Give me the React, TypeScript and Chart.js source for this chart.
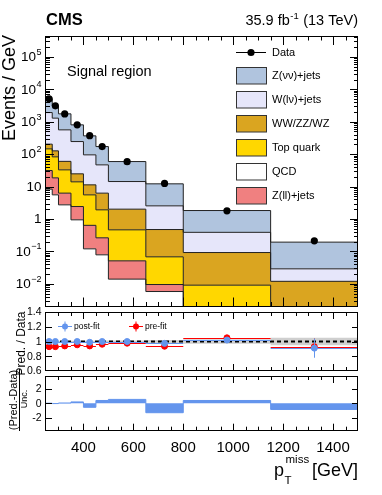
import React, { useEffect, useRef } from "react";
import { Chart, registerables } from "chart.js";

Chart.register(...registerables);

const W = 382;
const H = 495;
const FONT = "'Liberation Sans', Arial, Helvetica, sans-serif";

// ---------------- data ----------------
const binEdges = [250, 275, 300, 350, 400, 450, 500, 650, 800, 1150, 1500];
const dataEvents = [5070, 3080, 1740, 800, 370, 171, 58.5, 12.5, 1.79, 0.212];

const zvvJets = [3153, 1795, 1186, 556, 271, 124.7, 44.8, 9.59, 1.434, 0.1642];
const wlvJets = [1713, 1162, 501, 219.8, 83.8, 40.4, 12.27, 2.07, 0.2954, 0.01708];
const diboson = [57.6, 43.8, 27.1, 10.7, 5.75, 4.355, 1.549, 0.4047, 0.0832, 0.01045];
const topQuark = [114.4, 63.9, 26.5, 11.56, 4.91, 1.653, 0.4115, 0.0585, 0.0083, 0.001];
const qcd = [8.33, 5.55, 2.73, 0.941, 0.12, 0.0784, 0.01397, 0.00579, 0.0003, 0.0002];
const zllJets = [22.9, 13.0, 3.54, 1.48, 0.517, 0.184, 0.0372, 0.00373, 0.0005, 0.0003];

const postFitRatio = [1.0, 1.0, 1.0, 1.0, 0.99, 1.0, 1.0, 0.975, 1.02, 0.91];
const postFitErr = [0.01, 0.01, 0.01, 0.01, 0.012, 0.015, 0.02, 0.03, 0.035, 0.13];
const preFitRatio = [0.93, 0.93, 0.94, 0.955, 0.94, 0.963, 0.977, 0.936, 1.05, 0.93];
const preFitErr = [0.01, 0.01, 0.01, 0.012, 0.012, 0.015, 0.02, 0.03, 0.035, 0.11];
const uncBand = [0.008, 0.008, 0.008, 0.01, 0.01, 0.012, 0.015, 0.02, 0.03, 0.05];

const pulls = [0.02, -0.03, 0.05, 0.2, -0.55, 0.4, 0.55, -1.3, 0.4, -0.85];

const mainYLabels = [-2, -1, 0, 1, 2, 3, 4, 5];
const ratioYTicks = [0.6, 0.8, 1.0, 1.2, 1.4];
const ratioYLabels = ["0.6", "0.8", "1", "1.2", "1.4"];
const pullYTicks = [-2, 0, 2];
const pullYLabels = ["-2", "0", "2"];
const xLabelTicks = [400, 600, 800, 1000, 1200, 1400];

const legendEntries = [
  { label: "Z(νν)+jets", color: "#b0c4de" },
  { label: "W(lν)+jets", color: "#e6e6fa" },
  { label: "WW/ZZ/WZ", color: "#daa520" },
  { label: "Top quark", color: "#ffd700" },
  { label: "QCD", color: "#ffffff" },
  { label: "Z(ll)+jets", color: "#f08080" },
];

// ---------------- layout ----------------
const PLOT_L = 46;
const PLOT_R = 358;
const MAIN_TOP = 36;
const MAIN_BOTTOM = 306.5;
const RATIO_TOP = 312;
const RATIO_BOTTOM = 371;
const PULL_TOP = 376;
const PULL_BOTTOM = 430.7;

const BLUE = "#6495ed";
const RED = "#ff0000";

const centers = binEdges.slice(0, -1).map((e, i) => (e + binEdges[i + 1]) / 2);

function stepPoints(vals: number[]) {
  const pts = vals.map((v, i) => ({ x: binEdges[i], y: v }));
  pts.push({ x: binEdges[binEdges.length - 1], y: vals[vals.length - 1] });
  return pts;
}

function padding(top: number, bottom: number) {
  return { left: PLOT_L, right: W - PLOT_R, top, bottom: H - bottom };
}

// ---------------- drawing helpers ----------------
function drawFrame(chart: any) {
  const ctx = chart.ctx;
  const a = chart.chartArea;
  ctx.save();
  ctx.strokeStyle = "#000";
  ctx.lineWidth = 1;
  const x0 = Math.round(a.left) - 0.5;
  const y0 = Math.round(a.top) + 0.5;
  const x1 = Math.round(a.right) - 0.5;
  const y1 = Math.round(a.bottom) - 0.5;
  ctx.strokeRect(x0, y0, x1 - x0, y1 - y0);
  ctx.restore();
}

function drawXTicks(chart: any, majLen: number, minLen: number) {
  const ctx = chart.ctx;
  const a = chart.chartArea;
  const xs = chart.scales.x;
  ctx.save();
  ctx.strokeStyle = "#000";
  ctx.lineWidth = 1;
  ctx.beginPath();
  for (let v = 250; v < 1500; v += 50) {
    if (v <= xs.min || v >= xs.max) continue;
    const px = Math.round(xs.getPixelForValue(v)) + 0.5;
    const len = v % 200 === 0 ? majLen : minLen;
    ctx.moveTo(px, a.bottom);
    ctx.lineTo(px, a.bottom - len);
    ctx.moveTo(px, a.top);
    ctx.lineTo(px, a.top + len);
  }
  ctx.stroke();
  ctx.restore();
}

function drawYTicks(chart: any, vals: { v: number; len: number }[]) {
  const ctx = chart.ctx;
  const a = chart.chartArea;
  const ys = chart.scales.y;
  ctx.save();
  ctx.strokeStyle = "#000";
  ctx.lineWidth = 1;
  ctx.beginPath();
  vals.forEach(({ v, len }) => {
    if (v <= ys.min || v >= ys.max) return;
    const py = Math.round(ys.getPixelForValue(v)) + 0.5;
    ctx.moveTo(a.left, py);
    ctx.lineTo(a.left + len, py);
    ctx.moveTo(a.right, py);
    ctx.lineTo(a.right - len, py);
  });
  ctx.stroke();
  ctx.restore();
}

function rotatedText(ctx: any, text: string, x: number, y: number, font: string, align: string) {
  ctx.save();
  ctx.translate(x, y);
  ctx.rotate(-Math.PI / 2);
  ctx.font = font;
  ctx.textAlign = align;
  ctx.textBaseline = "alphabetic";
  ctx.fillStyle = "#000";
  ctx.fillText(text, 0, 0);
  ctx.restore();
}

// ---------------- plugins ----------------
const mainDeco = {
  id: "mainDeco",
  afterDraw(chart: any) {
    const ctx = chart.ctx;
    const ys = chart.scales.y;
    drawFrame(chart);
    drawXTicks(chart, 9, 4.5);
    const yt: { v: number; len: number }[] = [];
    for (let e = -3; e <= 5; e++) {
      for (let k = 1; k <= 9; k++) yt.push({ v: k * Math.pow(10, e), len: k === 1 ? 8 : 4 });
    }
    drawYTicks(chart, yt);

    // y tick labels
    ctx.save();
    ctx.fillStyle = "#000";
    ctx.textBaseline = "middle";
    const baseFont = `13.5px ${FONT}`;
    const supFont = `9px ${FONT}`;
    const xr = 41.5;
    mainYLabels.forEach((e) => {
      const py = ys.getPixelForValue(Math.pow(10, e));
      ctx.textAlign = "left";
      if (e === 0 || e === 1) {
        ctx.font = baseFont;
        const t = e === 0 ? "1" : "10";
        const w = ctx.measureText(t).width;
        ctx.fillText(t, xr - w, py + 0.5);
      } else {
        const sup = e < 0 ? "\u2212" + Math.abs(e) : String(e);
        ctx.font = supFont;
        const ws = ctx.measureText(sup).width;
        ctx.font = baseFont;
        const wb = ctx.measureText("10").width;
        const x0 = xr - ws - wb - 0.5;
        ctx.fillText("10", x0, py + 0.5);
        ctx.font = supFont;
        ctx.fillText(sup, x0 + wb + 0.5, py - 4.5);
      }
    });
    ctx.restore();

    // y title
    rotatedText(ctx, "Events / GeV", 15, MAIN_TOP - 1, `18px ${FONT}`, "right");

    // header
    ctx.save();
    ctx.fillStyle = "#000";
    ctx.textBaseline = "alphabetic";
    ctx.textAlign = "left";
    ctx.font = `bold 16.5px ${FONT}`;
    ctx.fillText("CMS", 46, 25);
    // lumi text, right aligned
    const f1 = `14.5px ${FONT}`;
    const f2 = `9.5px ${FONT}`;
    ctx.font = f1;
    const tA = "35.9 fb";
    const tC = " (13 TeV)";
    const wA = ctx.measureText(tA).width;
    const wC = ctx.measureText(tC).width;
    ctx.font = f2;
    const tB = "-1";
    const wB = ctx.measureText(tB).width;
    let x = PLOT_R - (wA + wB + wC + 1);
    ctx.font = f1;
    ctx.fillText(tA, x, 25);
    x += wA + 0.5;
    ctx.font = f2;
    ctx.fillText(tB, x, 19);
    x += wB + 0.5;
    ctx.font = f1;
    ctx.fillText(tC, x, 25);

    ctx.font = `14.5px ${FONT}`;
    ctx.fillText("Signal region", 67, 75.5);

    // legend
    const bx = 236;
    const bw = 30;
    const bh = 16.5;
    ctx.strokeStyle = "#000";
    ctx.lineWidth = 1;
    ctx.beginPath();
    ctx.moveTo(bx, 52.5);
    ctx.lineTo(bx + bw, 52.5);
    ctx.stroke();
    ctx.beginPath();
    ctx.arc(bx + bw / 2, 52.5, 3.6, 0, Math.PI * 2);
    ctx.fillStyle = "#000";
    ctx.fill();
    ctx.font = `11px ${FONT}`;
    ctx.textBaseline = "middle";
    ctx.fillText("Data", 272, 53);
    legendEntries.forEach((en, i) => {
      const cy = 75.7 + i * 24;
      ctx.fillStyle = en.color;
      ctx.fillRect(bx, cy - bh / 2, bw, bh);
      ctx.strokeStyle = "#333";
      ctx.strokeRect(bx + 0.5, Math.round(cy - bh / 2) + 0.5, bw, bh);
      ctx.fillStyle = "#000";
      ctx.fillText(en.label, 272, cy + 0.5);
    });
    ctx.restore();
  },
};

function drawErrBars(chart: any, vals: number[], errs: number[], color: string) {
  const ctx = chart.ctx;
  const xs = chart.scales.x;
  const ys = chart.scales.y;
  ctx.save();
  ctx.strokeStyle = color;
  ctx.lineWidth = 1;
  ctx.beginPath();
  vals.forEach((v, i) => {
    const x0 = xs.getPixelForValue(binEdges[i]);
    const x1 = xs.getPixelForValue(binEdges[i + 1]);
    const xc = xs.getPixelForValue(centers[i]);
    const py = Math.round(ys.getPixelForValue(v)) + 0.5;
    ctx.moveTo(x0, py);
    ctx.lineTo(x1, py);
    ctx.moveTo(Math.round(xc) + 0.5, ys.getPixelForValue(v + errs[i]));
    ctx.lineTo(Math.round(xc) + 0.5, ys.getPixelForValue(v - errs[i]));
  });
  ctx.stroke();
  ctx.restore();
}

const ratioDeco = {
  id: "ratioDeco",
  beforeDatasetDraw(chart: any, args: any) {
    if (args.index === 3) drawErrBars(chart, preFitRatio, preFitErr, RED);
    if (args.index === 4) drawErrBars(chart, postFitRatio, postFitErr, BLUE);
  },
  afterDraw(chart: any) {
    const ctx = chart.ctx;
    const ys = chart.scales.y;
    drawFrame(chart);
    drawXTicks(chart, 7, 4);
    drawYTicks(
      chart,
      ratioYTicks.map((v) => ({ v, len: 6 }))
    );
    ctx.save();
    ctx.fillStyle = "#000";
    ctx.font = `10.5px ${FONT}`;
    ctx.textAlign = "right";
    ctx.textBaseline = "middle";
    ratioYTicks.forEach((v, i) => {
      ctx.fillText(ratioYLabels[i], 41.5, ys.getPixelForValue(v) + 0.5);
    });
    ctx.restore();
    rotatedText(ctx, "Pred. / Data", 25, RATIO_TOP - 0.5, `12px ${FONT}`, "right");

    // legend
    const items = [
      { x: 65, label: "post-fit", color: BLUE },
      { x: 136, label: "pre-fit", color: RED },
    ];
    const y = 326.5;
    ctx.save();
    items.forEach((it) => {
      ctx.strokeStyle = it.color;
      ctx.fillStyle = it.color;
      ctx.lineWidth = 1;
      ctx.beginPath();
      ctx.moveTo(it.x - 7, y);
      ctx.lineTo(it.x + 7, y);
      ctx.moveTo(it.x, y - 5);
      ctx.lineTo(it.x, y + 5);
      ctx.stroke();
      ctx.beginPath();
      ctx.arc(it.x, y, 3, 0, Math.PI * 2);
      ctx.fill();
      ctx.fillStyle = "#000";
      ctx.font = `8.5px ${FONT}`;
      ctx.textAlign = "left";
      ctx.textBaseline = "middle";
      ctx.fillText(it.label, it.x + 9, y + 0.5);
    });
    ctx.restore();
  },
};

const pullDeco = {
  id: "pullDeco",
  afterDraw(chart: any) {
    const ctx = chart.ctx;
    const ys = chart.scales.y;
    const xs = chart.scales.x;
    drawFrame(chart);
    drawXTicks(chart, 7, 4);
    drawYTicks(
      chart,
      pullYTicks.map((v) => ({ v, len: 6 }))
    );
    ctx.save();
    ctx.fillStyle = "#000";
    ctx.font = `10.5px ${FONT}`;
    ctx.textAlign = "right";
    ctx.textBaseline = "middle";
    pullYTicks.forEach((v, i) => {
      ctx.fillText(pullYLabels[i], 41.5, ys.getPixelForValue(v) + 0.5);
    });
    // x labels
    ctx.font = `15px ${FONT}`;
    ctx.textAlign = "center";
    ctx.textBaseline = "middle";
    xLabelTicks.forEach((v) => {
      ctx.fillText(String(v), xs.getPixelForValue(v), 448);
    });
    // x title
    ctx.textAlign = "left";
    ctx.textBaseline = "alphabetic";
    ctx.font = `18px ${FONT}`;
    ctx.fillText("p", 274, 476);
    ctx.font = `11.5px ${FONT}`;
    ctx.fillText("T", 284.5, 483.5);
    ctx.fillText("miss", 285.5, 463);
    ctx.font = `18px ${FONT}`;
    ctx.textAlign = "right";
    ctx.fillText("[GeV]", PLOT_R, 476);
    ctx.restore();

    // y title: fraction
    ctx.save();
    ctx.translate(0, 400);
    ctx.rotate(-Math.PI / 2);
    ctx.fillStyle = "#000";
    ctx.textAlign = "center";
    ctx.textBaseline = "alphabetic";
    ctx.font = `11px ${FONT}`;
    ctx.fillText("(Pred.-Data)", 0, 17);
    ctx.strokeStyle = "#000";
    ctx.lineWidth = 1;
    ctx.beginPath();
    ctx.moveTo(-31, 19.5);
    ctx.lineTo(31, 19.5);
    ctx.stroke();
    ctx.font = `9px ${FONT}`;
    ctx.fillText("Unc.", 1, 27);
    ctx.restore();
  },
};

// ---------------- configs ----------------
function mainConfig(): any {
  const layers = [
    { label: "QCD", vals: qcd, color: "#ffffff" },
    { label: "Z(ll)+jets", vals: zllJets, color: "#f08080" },
    { label: "Top quark", vals: topQuark, color: "#ffd700" },
    { label: "WW/ZZ/WZ", vals: diboson, color: "#daa520" },
    { label: "W(lν)+jets", vals: wlvJets, color: "#e6e6fa" },
    { label: "Z(νν)+jets", vals: zvvJets, color: "#b0c4de" },
  ];
  let run = new Array(dataEvents.length).fill(0);
  const stack = layers.map((l, k) => {
    run = run.map((r, i) => r + l.vals[i]);
    return {
      label: l.label,
      data: stepPoints(run),
      stepped: true,
      fill: k === 0 ? "start" : "-1",
      backgroundColor: l.color,
      borderColor: "#222",
      borderWidth: 1,
      pointRadius: 0,
      order: 5,
    };
  });
  const dataDs = {
    label: "Data",
    data: centers.map((c, i) => ({ x: c, y: dataEvents[i] })),
    showLine: false,
    pointRadius: 3.6,
    pointBackgroundColor: "#000",
    pointBorderColor: "#000",
    borderWidth: 0,
    order: 0,
  };
  return {
    type: "line",
    data: { datasets: [...stack, dataDs] },
    options: {
      responsive: false,
      animation: false,
      devicePixelRatio: 1,
      events: [],
      layout: { padding: padding(MAIN_TOP, MAIN_BOTTOM) },
      scales: {
        x: { type: "linear", min: 250, max: 1500, display: false },
        y: { type: "logarithmic", min: 0.002, max: 4.4e5, display: false },
      },
      plugins: {
        legend: { display: false },
        tooltip: { enabled: false },
        filler: { drawTime: "beforeDatasetsDraw" },
      },
    },
    plugins: [mainDeco],
  };
}

function ratioConfig(): any {
  const up = uncBand.map((u) => 1 + u);
  const lo = uncBand.map((u) => 1 - u);
  return {
    type: "line",
    data: {
      datasets: [
        { label: "unc up", data: stepPoints(up), stepped: true, fill: false, borderWidth: 0, pointRadius: 0, order: 10 },
        {
          label: "unc",
          data: stepPoints(lo),
          stepped: true,
          fill: "-1",
          backgroundColor: "rgba(175,175,175,0.6)",
          borderWidth: 0,
          pointRadius: 0,
          order: 10,
        },
        {
          label: "one",
          data: [
            { x: 250, y: 1 },
            { x: 1500, y: 1 },
          ],
          borderColor: "#000",
          borderWidth: 2,
          borderDash: [4, 3],
          pointRadius: 0,
          fill: false,
          order: 8,
        },
        {
          label: "pre-fit",
          data: centers.map((c, i) => ({ x: c, y: preFitRatio[i] })),
          showLine: false,
          pointRadius: 3,
          pointBackgroundColor: RED,
          pointBorderColor: RED,
          order: 3,
        },
        {
          label: "post-fit",
          data: centers.map((c, i) => ({ x: c, y: postFitRatio[i] })),
          showLine: false,
          pointRadius: 3,
          pointBackgroundColor: BLUE,
          pointBorderColor: BLUE,
          order: 2,
        },
      ],
    },
    options: {
      responsive: false,
      animation: false,
      devicePixelRatio: 1,
      events: [],
      layout: { padding: padding(RATIO_TOP, RATIO_BOTTOM) },
      scales: {
        x: { type: "linear", min: 250, max: 1500, display: false },
        y: { type: "linear", min: 0.6, max: 1.4, display: false },
      },
      plugins: { legend: { display: false }, tooltip: { enabled: false } },
    },
    plugins: [ratioDeco],
  };
}

function pullConfig(): any {
  return {
    type: "line",
    data: {
      datasets: [
        {
          label: "pull",
          data: stepPoints(pulls),
          stepped: true,
          fill: { value: 0 },
          backgroundColor: BLUE,
          borderColor: BLUE,
          borderWidth: 1,
          pointRadius: 0,
        },
      ],
    },
    options: {
      responsive: false,
      animation: false,
      devicePixelRatio: 1,
      events: [],
      layout: { padding: padding(PULL_TOP, PULL_BOTTOM) },
      scales: {
        x: { type: "linear", min: 250, max: 1500, display: false },
        y: { type: "linear", min: -3.8, max: 3.8, display: false },
      },
      plugins: { legend: { display: false }, tooltip: { enabled: false } },
    },
    plugins: [pullDeco],
  };
}

export default function App() {
  const mainRef = useRef<HTMLCanvasElement>(null);
  const ratioRef = useRef<HTMLCanvasElement>(null);
  const pullRef = useRef<HTMLCanvasElement>(null);

  useEffect(() => {
    const charts = [
      new Chart(mainRef.current as HTMLCanvasElement, mainConfig()),
      new Chart(ratioRef.current as HTMLCanvasElement, ratioConfig()),
      new Chart(pullRef.current as HTMLCanvasElement, pullConfig()),
    ];
    return () => charts.forEach((c) => c.destroy());
  }, []);

  const cs: React.CSSProperties = { position: "absolute", left: 0, top: 0, width: W, height: H };
  return (
    <div style={{ position: "fixed", left: 0, top: 0, width: W, height: H, background: "#fff" }}>
      <canvas ref={mainRef} width={W} height={H} style={cs} />
      <canvas ref={ratioRef} width={W} height={H} style={cs} />
      <canvas ref={pullRef} width={W} height={H} style={cs} />
    </div>
  );
}
